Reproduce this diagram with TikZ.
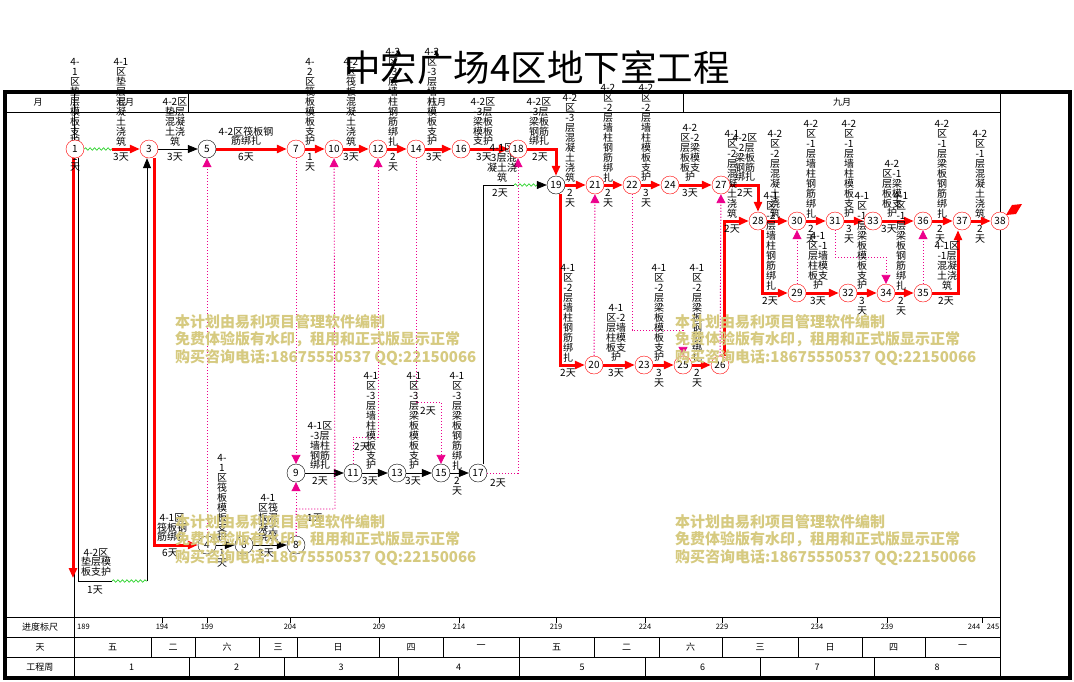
\documentclass[tikz,border=0pt]{standalone}
\usepackage{fontspec}
\setmainfont{Noto Sans CJK SC}
\usetikzlibrary{arrows.meta,decorations.pathmorphing,backgrounds}
\definecolor{wmark}{RGB}{214,202,128}
\definecolor{wavy}{RGB}{40,210,40}

\begin{document}
\begin{tikzpicture}[x=1pt,y=-1pt,
  lab/.style={font=\fontsize{10}{9.9}\selectfont,align=center,inner sep=0pt},
  hd/.style={font=\fontsize{9}{9}\selectfont,inner sep=0pt},
  sc/.style={font=\fontsize{7.5}{8}\selectfont,inner sep=0pt},
  evr/.style={circle,draw=red,fill=white,minimum size=18pt,inner sep=0pt,font=\fontsize{10}{10}\selectfont},
  evk/.style={evr,draw=black},
  crit/.style={draw=red,line width=3pt,-{Triangle[length=10pt,width=8pt]}},
  nrm/.style={draw=black,line width=0.7pt,-{Triangle[length=10pt,width=8pt]}},
  dum/.style={draw=magenta,line width=0.9pt,dash pattern=on 1.2pt off 1.8pt,-{Triangle[length=9pt,width=9pt]}},
  wav/.style={draw=wavy,line width=0.7pt,decorate,decoration={snake,amplitude=1.2pt,segment length=4.5pt}},
  wm/.style={text=wmark,font=\fontsize{15}{17.5}\selectfont\bfseries,align=left,anchor=north west,inner sep=0pt},
  grid/.style={line width=0.8pt}]

\useasboundingbox (0,0) rectangle (1074,681);

\node[evr] (n1) at (75,149) {1};
\node[evr] (n3) at (149,149) {3};
\node[evk] (n5) at (207,149) {5};
\node[evr] (n7) at (296,149) {7};
\node[evr] (n10) at (334,149) {10};
\node[evr] (n12) at (378,149) {12};
\node[evr] (n14) at (416,149) {14};
\node[evr] (n16) at (461,149) {16};
\node[evr] (n18) at (518,149) {18};
\node[evk] (n19) at (556,185) {19};
\node[evr] (n21) at (595,185) {21};
\node[evr] (n22) at (632,185) {22};
\node[evr] (n24) at (670,185) {24};
\node[evr] (n27) at (721,185) {27};
\node[evr] (n28) at (758,221) {28};
\node[evr] (n30) at (797,221) {30};
\node[evr] (n31) at (835,221) {31};
\node[evr] (n33) at (873,221) {33};
\node[evr] (n36) at (923,221) {36};
\node[evr] (n37) at (962,221) {37};
\node[evr] (n38) at (1000,221) {38};
\node[evr] (n29) at (797,293) {29};
\node[evr] (n32) at (848,293) {32};
\node[evr] (n34) at (886,293) {34};
\node[evr] (n35) at (923,293) {35};
\node[evr] (n20) at (594,365) {20};
\node[evr] (n23) at (644,365) {23};
\node[evr] (n25) at (683,365) {25};
\node[evr] (n26) at (720,365) {26};
\node[evk] (n9) at (296,473) {9};
\node[evk] (n11) at (353,473) {11};
\node[evk] (n13) at (397,473) {13};
\node[evk] (n15) at (441,473) {15};
\node[evk] (n17) at (478,473) {17};
\node[evk] (n4) at (207,545) {4};
\node[evk] (n6) at (244,545) {6};
\node[evk] (n8) at (296,545) {8};

\coordinate (c1) at (112,149);
\coordinate (c2) at (73,578);
\coordinate (c3) at (78,581);
\coordinate (c4) at (112,581);
\coordinate (c5) at (147,581);
\coordinate (c6) at (514,185);
\coordinate (c7) at (540,185);
\coordinate (b1) at (335,509);
\coordinate (b2) at (378,437);
\coordinate (b3) at (441,402);
\coordinate (b4) at (683,330);
\coordinate (b5) at (886,257);

\begin{scope}[on background layer]
\draw[line width=4pt] (5,92) rectangle (1070,678);
\draw[grid] (5,112) -- (1000,112);
\draw[grid] (74,92) -- (74,678);
\draw[grid] (188,92) -- (188,112);
\draw[grid] (683,92) -- (683,112);
\draw[grid] (1000,92) -- (1000,678);
\draw[grid] (5,617) -- (1000,617) (5,637) -- (1000,637) (5,657) -- (1000,657);
\node[hd] (m0) at (38,102) {月};
\node[hd] (m7) at (125,102) {七月};
\node[hd] (m8) at (437,102) {八月};
\node[hd] (m9) at (842,102) {九月};
\node[hd] (r1) at (40,627) {进度标尺};
\node[hd] (r2) at (40,647) {天};
\node[hd] (r3) at (40,667) {工程周};
\node[sc,anchor=west] (s189) at (77,627) {189};
\foreach \x/\t in {162/194,207/199,290/204,379/209,459/214,556/219,645/224,722/229,817/234,887/239}{
  \draw[grid] (\x,617) -- (\x,623);
  \node[sc] (s\t) at (\x,627) {\t};
}
\draw[grid] (982,617) -- (982,623);
\node[sc] (s244) at (974,627) {244};
\node[sc] (s245) at (993,627) {245};
\foreach \a/\b/\t [count=\i] in {74/151/五,151/195/二,195/259/六,259/297/三,297/379/日,379/443/四,443/519/一,519/594/五,594/659/二,659/722/六,722/798/三,798/862/日,862/925/四,925/1000/一}{
  \draw[grid] (\b,637) -- (\b,657);
  \node[hd] (dd\i) at ({(\a+\b)/2},647) {\t};
}
\foreach \a/\b/\t in {74/189/1,189/284/2,284/398/3,398/519/4,519/645/5,645/760/6,760/874/7,874/1000/8}{
  \draw[grid] (\b,657) -- (\b,678);
  \node[hd] (w\t) at ({(\a+\b)/2},667) {\t};
}

\draw[wav] (n1) -- (c1);
\draw[crit] (c1) -- (n3);
\draw[crit] ([xshift=-2pt]n1.south) -- (c2);
\draw[nrm,-] ([xshift=3pt]n1.south) |- (c4);
\draw[wav] (c4) -- (c5);
\draw[nrm] (c5) -- ([xshift=-2pt]n3.south);
\draw[crit] ([xshift=5pt]n3.south) |- (n4);
\draw[nrm] (n3) -- (n5);
\draw[crit] (n5) -- (n7);
\draw[crit] (n7) -- (n10);
\draw[crit] (n10) -- (n12);
\draw[crit] (n12) -- (n14);
\draw[crit] (n14) -- (n16);
\draw[crit] (n16) -- (n18);
\draw[crit] (n18) -| (n19);
\draw[crit] (n19) -- (n21);
\draw[crit] (n21) -- (n22);
\draw[crit] (n22) -- (n24);
\draw[crit] (n24) -- (n27);
\draw[crit] (n27) -| (n28);
\draw[crit] ([xshift=4pt]n19.south) |- (n20);
\draw[crit] (n20) -- (n23);
\draw[crit] (n23) -- (n25);
\draw[crit] (n25) -- (n26);
\draw[crit] ([xshift=4pt]n26.north) |- (n28);
\draw[crit] (n28) -- (n30);
\draw[crit] (n30) -- (n31);
\draw[crit] (n31) -- (n33);
\draw[crit] (n33) -- (n36);
\draw[crit] (n36) -- (n37);
\draw[crit] (n37) -- (n38);
\draw[crit] ([xshift=4pt]n28.south) |- (n29);
\draw[crit] (n29) -- (n32);
\draw[crit] (n32) -- (n34);
\draw[crit] (n34) -- (n35);
\draw[crit] (n35) -| ([xshift=-4pt]n37.south);
\fill[red] (1006,215) -- (1012,205) -- (1022,204) -- (1016,214) -- cycle;
\draw[nrm] (n4) -- (n6);
\draw[nrm] (n6) -- (n8);
\draw[nrm] (n9) -- (n11);
\draw[nrm] (n11) -- (n13);
\draw[nrm] (n13) -- (n15);
\draw[nrm] (n15) -- (n17);
\draw[nrm,-] ([xshift=5pt]n17.north) |- (c6);
\draw[wav] (c6) -- (c7);
\draw[nrm] (c7) -- (n19);
\draw[dum] (n4) -- (n5);
\draw[dum] (n7) -- (n9);
\draw[dum] (n8) -- (n9);
\draw[dum] (n8) |- (b1) -- (n10);
\draw[dum] (n11) |- (b2) -- (n12);
\draw[dum] (n14) |- (b3) -- (n15);
\draw[dum] (n17) -| (n18);
\draw[dum] (n20) -- (n21);
\draw[dum] (n22) |- (b4) -- (n25);
\draw[dum] (n26) -- (n27);
\draw[dum] (n29) -- (n30);
\draw[dum] (n31) |- (b5) -- (n34);
\draw[dum] (n35) -- (n36);

\node[lab,above] (t1) at (75,146) {4-\\1\\区\\垫\\层\\模\\板\\支\\护};
\node[lab,below] (d1) at (75,153) {1\\天};
\node[lab,above] (t2) at (121,146) {4-1\\区\\垫\\层\\混\\凝\\土\\浇\\筑};
\node[lab,below] (d2) at (121,153) {3天};
\node[lab,above] (t3) at (175,146) {4-2区\\垫层\\混凝\\土浇\\筑};
\node[lab,below] (d3) at (175,153) {3天};
\node[lab,above] (t4) at (246,146) {4-2区筏板钢\\筋绑扎};
\node[lab,below] (d4) at (246,153) {6天};
\node[lab,above] (t5) at (310,146) {4-\\2\\区\\筏\\板\\模\\板\\支\\护};
\node[lab,below] (d5) at (310,153) {1\\天};
\node[lab,above] (t6) at (351,146) {4-2\\区\\筏\\板\\混\\凝\\土\\浇\\筑};
\node[lab,below] (d6) at (351,153) {3天};
\node[lab,above] (t7) at (393,146) {4-2\\区\\-3\\层\\墙\\柱\\钢\\筋\\绑\\扎};
\node[lab,below] (d7) at (393,153) {2\\天};
\node[lab,above] (t8) at (432,146) {4-2\\区\\-3\\层\\墙\\柱\\模\\板\\支\\护};
\node[lab,below] (d8) at (434,153) {3天};
\node[lab,above] (t9) at (483,146) {4-2区\\-3层\\梁板\\模板\\支护};
\node[lab,below] (d9) at (484,153) {3天};
\node[lab,above] (t10) at (539,146) {4-2区\\-3层\\梁板\\钢筋\\绑扎};
\node[lab,below] (d10) at (540,153) {2天};
\node[lab,above] (t11) at (502,182) {4-1区\\-3层混\\凝土浇\\筑};
\node[lab,below] (d11) at (500,189) {2天};
\node[lab,above] (t12) at (570,182) {4-2\\区\\-3\\层\\混\\凝\\土\\浇\\筑};
\node[lab,below] (d12) at (570,189) {2\\天};
\node[lab,above] (t13) at (608,182) {4-2\\区\\-2\\层\\墙\\柱\\钢\\筋\\绑\\扎};
\node[lab,below] (d13) at (608,189) {2\\天};
\node[lab,above] (t14) at (646,182) {4-2\\区\\-2\\层\\墙\\柱\\模\\板\\支\\护};
\node[lab,below] (d14) at (646,189) {3\\天};
\node[lab,above] (t15) at (690,182) {4-2\\区-2\\层梁\\板模\\板支\\护};
\node[lab,below] (d15) at (690,189) {3天};
\node[lab,above] (t16) at (745,182) {4-2区\\-2层\\梁板\\钢筋\\绑扎};
\node[lab,below] (d16) at (745,189) {2天};
\node[lab,above] (t17) at (732,218) {4-1\\区\\-2\\层\\混\\凝\\土\\浇\\筑};
\node[lab,below] (d17) at (732,225) {2天};
\node[lab,above] (t18) at (775,218) {4-2\\区\\-2\\层\\混\\凝\\土\\浇\\筑};
\node[lab,above] (t19) at (771,290) {4-1\\区\\-2\\层\\墙\\柱\\钢\\筋\\绑\\扎};
\node[lab,below] (d19) at (770,297) {2天};
\node[lab,above] (t20) at (811,218) {4-2\\区\\-1\\层\\墙\\柱\\钢\\筋\\绑\\扎};
\node[lab,below] (d20) at (811,225) {2\\天};
\node[lab,above] (t21) at (849,218) {4-2\\区\\-1\\层\\墙\\柱\\模\\板\\支\\护};
\node[lab,below] (d21) at (849,225) {3\\天};
\node[lab,above] (t22) at (892,218) {4-2\\区-1\\层梁\\板模\\板支\\护};
\node[lab,below] (d22) at (889,225) {3天};
\node[lab,above] (t23) at (942,218) {4-2\\区\\-1\\层\\梁\\板\\钢\\筋\\绑\\扎};
\node[lab,below] (d23) at (940,225) {2\\天};
\node[lab,above] (t24) at (980,218) {4-2\\区\\-1\\层\\混\\凝\\土\\浇\\筑};
\node[lab,below] (d24) at (980,225) {2\\天};
\node[lab,above] (t25) at (818,290) {4-1\\区-1\\层墙\\柱模\\板支\\护};
\node[lab,below] (d25) at (818,297) {3天};
\node[lab,above] (t26) at (862,290) {4-1\\区\\-1\\层\\梁\\板\\模\\板\\支\\护};
\node[lab,below] (d26) at (862,297) {3\\天};
\node[lab,above] (t27) at (901,290) {4-1\\区\\-1\\层\\梁\\板\\钢\\筋\\绑\\扎};
\node[lab,below] (d27) at (901,297) {2\\天};
\node[lab,above] (t28) at (947,290) {4-1区\\-1层\\混凝\\土浇\\筑};
\node[lab,below] (d28) at (946,297) {2天};
\node[lab,above] (t29) at (568,362) {4-1\\区\\-2\\层\\墙\\柱\\钢\\筋\\绑\\扎};
\node[lab,below] (d29) at (568,369) {2天};
\node[lab,above] (t30) at (616,362) {4-1\\区-2\\层墙\\柱模\\板支\\护};
\node[lab,below] (d30) at (616,369) {3天};
\node[lab,above] (t31) at (659,362) {4-1\\区\\-2\\层\\梁\\板\\模\\板\\支\\护};
\node[lab,below] (d31) at (659,369) {3\\天};
\node[lab,above] (t32) at (697,362) {4-1\\区\\-2\\层\\梁\\板\\钢\\筋\\绑\\扎};
\node[lab,below] (d32) at (697,369) {2\\天};
\node[lab,above] (t33) at (320,470) {4-1区\\-3层\\墙柱\\钢筋\\绑扎};
\node[lab,below] (d33) at (320,477) {2天};
\node[lab,above] (t34) at (371,470) {4-1\\区\\-3\\层\\墙\\柱\\模\\板\\支\\护};
\node[lab,below] (d34) at (370,477) {3天};
\node[lab,above] (t35) at (414,470) {4-1\\区\\-3\\层\\梁\\板\\模\\板\\支\\护};
\node[lab,below] (d35) at (413,477) {3天};
\node[lab,above] (t36) at (457,470) {4-1\\区\\-3\\层\\梁\\板\\钢\\筋\\绑\\扎};
\node[lab,below] (d36) at (457,477) {2\\天};
\node[lab,above] (t37) at (222,542) {4-\\1\\区\\筏\\板\\模\\板\\支\\护};
\node[lab,below] (d37) at (222,549) {1\\天};
\node[lab,above] (t38) at (268,542) {4-1\\区筏\\板混\\凝土\\浇筑};
\node[lab,below] (d38) at (266,549) {3天};
\node[lab,above] (t39) at (172,542) {4-1区\\筏板钢\\筋绑扎};
\node[lab,below] (d39) at (170,549) {6天};
\node[lab,below] (t40) at (96,548) {4-2区\\垫层模\\板支护};
\node[lab] (d40) at (95,590) {1天};
\node[lab] (d41) at (315,518) {1天};
\node[lab] (d42) at (428,411) {2天};
\node[lab] (d43) at (498,483) {2天};
\node[lab] (d44) at (362,447) {2天};
\end{scope}

\node[font=\fontsize{36.5}{37}\selectfont,inner sep=0pt] (title) at (537,68) {中宏广场4区地下室工程};
\node[wm] (wm1) at (175,314) {本计划由易利项目管理软件编制\\免费体验版有水印，租用和正式版显示正常\\购买咨询电话:18675550537 QQ:22150066};
\node[wm] (wm2) at (675,314) {本计划由易利项目管理软件编制\\免费体验版有水印，租用和正式版显示正常\\购买咨询电话:18675550537 QQ:22150066};
\node[wm] (wm3) at (175,514) {本计划由易利项目管理软件编制\\免费体验版有水印，租用和正式版显示正常\\购买咨询电话:18675550537 QQ:22150066};
\node[wm] (wm4) at (675,514) {本计划由易利项目管理软件编制\\免费体验版有水印，租用和正式版显示正常\\购买咨询电话:18675550537 QQ:22150066};
\end{tikzpicture}
\end{document}
